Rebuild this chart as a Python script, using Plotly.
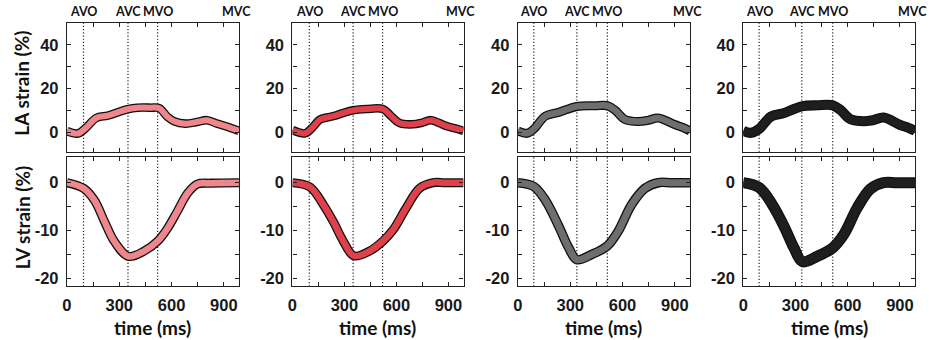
import plotly.graph_objects as go

# ---------------- data ----------------
colors = ["#EE868B", "#E0404A", "#6E6E6E", "#1E1E1E"]

la_t = [
    [0, 63, 110, 168, 234, 291, 348, 405, 481, 529, 576, 614, 681, 747, 804, 861, 938, 987],
    [0, 73, 120, 159, 235, 290, 350, 427, 522, 570, 618, 694, 750, 799, 885, 940, 987],
    [0, 53, 91, 158, 234, 338, 443, 513, 557, 614, 690, 750, 804, 899, 950, 987],
    [0, 44, 91, 158, 235, 336, 425, 515, 559, 616, 692, 750, 806, 902, 950, 987],
]
la_v = [
    [0.5, -0.6, 2.1, 6.5, 7.6, 9.1, 10.5, 11.2, 11.2, 11.0, 7.1, 5.0, 3.9, 4.7, 5.5, 3.9, 2.0, 0.6],
    [1.0, -0.5, 2.5, 5.8, 7.3, 8.7, 10.0, 10.6, 10.6, 7.3, 4.2, 3.6, 4.4, 5.5, 2.9, 1.7, 0.6],
    [0.6, -0.5, 1.4, 7.4, 9.1, 11.8, 12.1, 12.1, 10.1, 5.8, 4.9, 5.5, 6.5, 3.5, 2.0, 0.6],
    [0.6, -0.3, 1.5, 7.1, 8.8, 11.8, 12.3, 12.3, 10.1, 5.9, 5.0, 5.6, 6.7, 3.3, 2.0, 0.6],
]
lv_t = [
    [0, 96, 158, 215, 272, 352, 443, 521, 576, 633, 690, 747, 823, 987],
    [0, 101, 178, 235, 293, 354, 445, 522, 580, 656, 732, 809, 880, 987],
    [0, 91, 158, 234, 291, 338, 424, 513, 576, 652, 728, 804, 880, 987],
    [0, 91, 167, 235, 292, 339, 425, 515, 578, 654, 730, 806, 880, 987],
]
lv_v = [
    [0.0, -1.2, -3.7, -8.1, -12.3, -15.4, -14.3, -12.2, -9.6, -6.0, -2.3, -0.3, -0.1, 0.0],
    [0.0, -0.9, -4.6, -8.1, -12.2, -15.3, -14.3, -12.2, -9.9, -5.3, -1.2, 0.0, 0.0, 0.0],
    [0.0, -0.8, -3.7, -9.1, -13.6, -16.1, -15.0, -13.2, -10.1, -4.6, -1.2, 0.0, 0.0, 0.0],
    [0.0, -1.0, -4.6, -9.2, -13.7, -16.5, -15.4, -13.6, -10.8, -5.3, -1.3, 0.0, 0.0, 0.0],
]
avo = [95, 97, 91, 91]
avc = [350, 350, 338, 336]
mvo = [520, 520, 513, 514]
mvc = [987, 987, 987, 987]
event_names = ["AVO", "AVC", "MVO", "MVC"]

x_tickvals = [0, 150, 300, 450, 600, 750, 900]
x_ticktext = ["0", "", "300", "", "600", "", "900"]
la_tickvals = [0, 10, 20, 30, 40]
la_ticktext = ["0", "", "20", "", "40"]
lv_tickvals = [-20, -15, -10, -5, 0]
lv_ticktext = ["-20", "", "-10", "", "0"]

# ---------------- layout geometry ----------------
W, H = 929, 340
panel_px = [(62.3, 235.3), (289.0, 461.0), (515.7, 688.7), (742.3, 915.0)]
top_px = (23.0, 152.3)
bot_px = (157.8, 287.3)

def xd(a, b):
    return [a / W, b / W]

def yd(a, b):
    return [1 - b / H, 1 - a / H]

fig = go.Figure()
tickfont = dict(family="Liberation Sans", size=16.5, color="#1a1a1a", weight="bold")
lwid_la = [6.0, 6.0, 6.5, 7.5]
lwid_lv = [6.5, 6.5, 7.0, 8.5]

shapes = []
annotations = []
for i in range(4):
    xa_top = 2 * i + 1
    xa_bot = 2 * i + 2
    for k, (tt, vv, lw) in enumerate([(la_t[i], la_v[i], lwid_la[i]), (lv_t[i], lv_v[i], lwid_lv[i])]):
        n = xa_top if k == 0 else xa_bot
        ax = "" if n == 1 else str(n)
        fig.add_trace(go.Scatter(x=tt, y=vv, mode="lines", xaxis="x" + ax, yaxis="y" + ax,
                                 line=dict(color="#111111", width=lw + 2.6, shape="spline", smoothing=1.0),
                                 hoverinfo="skip", showlegend=False))
        fig.add_trace(go.Scatter(x=tt, y=vv, mode="lines", xaxis="x" + ax, yaxis="y" + ax,
                                 line=dict(color=colors[i], width=lw, shape="spline", smoothing=1.0),
                                 showlegend=False))
    for n, (ya, yb), yr, tv, tx in [
        (xa_top, top_px, [-9, 50], la_tickvals, la_ticktext),
        (xa_bot, bot_px, [-21.7, 5.3], lv_tickvals, lv_ticktext),
    ]:
        key = "" if n == 1 else str(n)
        fig.update_layout(**{
            "xaxis" + key: dict(domain=xd(*panel_px[i]), anchor="y" + key, range=[0, 987],
                                tickvals=x_tickvals, ticktext=x_ticktext, ticks="inside", ticklen=4,
                                tickcolor="#222", showline=True, linecolor="#222", linewidth=1.3,
                                mirror="ticks", showgrid=False, zeroline=False,
                                showticklabels=(n == xa_bot), tickfont=tickfont, ticklabelstandoff=4),
            "yaxis" + key: dict(domain=yd(ya, yb), anchor="x" + key, range=yr,
                                tickvals=tv, ticktext=tx, ticks="inside", ticklen=4,
                                tickcolor="#222", showline=True, linecolor="#222", linewidth=1.3,
                                mirror="ticks", showgrid=False, zeroline=False,
                                tickfont=tickfont, ticklabelstandoff=4),
        })
        for ev in (avo[i], avc[i], mvo[i]):
            shapes.append(dict(type="line", xref="x" + key, yref="y" + key + " domain",
                               x0=ev, x1=ev, y0=0, y1=1,
                               line=dict(color="#222", width=1.2, dash="1.2px,2px"), layer="below"))
    key = "" if xa_top == 1 else str(xa_top)
    for name, ev in zip(event_names, (avo[i], avc[i], mvo[i], mvc[i] - 15)):
        annotations.append(dict(text=name, xref="x" + key, yref="paper", x=ev, y=1 - 12 / H,
                                showarrow=False, xanchor="center", yanchor="middle",
                                font=dict(family="Lato", size=12.5, color="#111", weight="bold")))
    xc = (panel_px[i][0] + panel_px[i][1]) / 2 / W
    annotations.append(dict(text="time (ms)", xref="paper", yref="paper", x=xc, y=1 - 328 / H,
                            showarrow=False, xanchor="center", yanchor="middle",
                            font=dict(family="Lato", size=19, color="#111", weight="bold")))

annotations.append(dict(text="LA strain (%)", xref="paper", yref="paper", x=17 / W, y=1 - 83 / H,
                        showarrow=False, textangle=-90, xanchor="center", yanchor="middle",
                        font=dict(family="Lato", size=19, color="#111", weight="bold")))
annotations.append(dict(text="LV strain (%)", xref="paper", yref="paper", x=17 / W, y=1 - 218 / H,
                        showarrow=False, textangle=-90, xanchor="center", yanchor="middle",
                        font=dict(family="Lato", size=19, color="#111", weight="bold")))

fig.update_layout(width=W, height=H, margin=dict(l=0, r=0, t=0, b=0),
                  paper_bgcolor="white", plot_bgcolor="white",
                  shapes=shapes, annotations=annotations, showlegend=False)
fig.write_html("out.html", config={"displayModeBar": False},
               post_script="document.body.style.margin='0';document.body.style.overflow='hidden';")
